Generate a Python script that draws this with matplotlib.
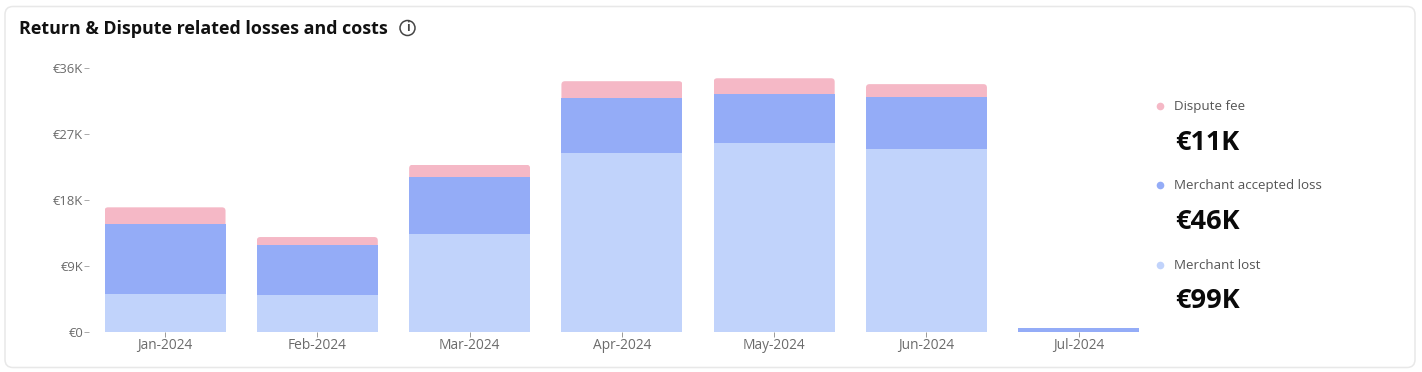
import matplotlib
matplotlib.use("Agg")
import matplotlib.pyplot as plt
from matplotlib.patches import FancyBboxPatch, Circle
from matplotlib.transforms import IdentityTransform

plt.rcParams['font.family'] = ['Open Sans', 'DejaVu Sans']

months = ['Jan-2024', 'Feb-2024', 'Mar-2024', 'Apr-2024', 'May-2024', 'Jun-2024', 'Jul-2024']
merchant_lost = [5.2, 5.05, 13.4, 24.4, 25.8, 25.0, 0.05]
merchant_accepted = [9.5, 6.85, 7.7, 7.5, 6.7, 7.0, 0.5]
dispute_fee = [2.3, 1.05, 1.7, 2.3, 2.1, 1.8, 0.0]
y_ticks = [0, 9, 18, 27, 36]
y_labels = ['€0', '€9K', '€18K', '€27K', '€36K']
legend_names = ['Dispute fee', 'Merchant accepted loss', 'Merchant lost']
legend_totals = ['€11K', '€46K', '€99K']

C_LOST, C_ACC, C_FEE = '#c1d3fb', '#94acf7', '#f5b8c6'
legend_colors = [C_FEE, C_ACC, C_LOST]
W, H = 1422, 372
TXT = '#6b6b6b'

fig = plt.figure(figsize=(W / 100, H / 100), dpi=100, facecolor='white')
bg = fig.add_axes([0, 0, 1, 1])
bg.set_xlim(0, W)
bg.set_ylim(H, 0)
bg.axis('off')
bg.add_patch(FancyBboxPatch((5, 6.5), 1410, 361, boxstyle='round,pad=0,rounding_size=8',
                            fc='white', ec='#e8e8e8', lw=1.1))
bg.text(19, 28.5, 'Return & Dispute related losses and costs', fontsize=12.9, fontweight='bold',
        color='#111111', va='center', ha='left')
bg.add_patch(Circle((407.5, 28), 7.5, fc='none', ec='#444444', lw=1.1))
bg.text(407.5, 27.5, 'i', fontsize=8.5, fontweight='bold', color='#444444', ha='center', va='center')

legend_y = [105, 184, 264]
total_y = [141, 220, 299]
for name, total, col, ly, ty in zip(legend_names, legend_totals, legend_colors, legend_y, total_y):
    bg.plot([1160], [ly + 1], 'o', ms=5.5, color=col, mec='none')
    bg.text(1174, ly + 1.5, name, fontsize=9.6, color='#555555', va='center', ha='left')
    bg.text(1175, ty + 2, total, fontsize=19.5, fontweight='bold', color='#0a0a0a', va='center', ha='left')

ax = fig.add_axes([88.9 / W, 1 - 332 / H, 1066 / W, 264 / H], facecolor='none')
ax.set_xlim(-0.5, 6.5)
ax.set_ylim(0, 36)
x = list(range(len(months)))
bw = 121 / 152.33
ax.bar(x, merchant_lost, width=bw, color=C_LOST, lw=0)
bottom2 = merchant_lost
ax.bar(x, merchant_accepted, width=bw, bottom=bottom2, color=C_ACC, lw=0)
bottom3 = [a + b for a, b in zip(merchant_lost, merchant_accepted)]
bars = ax.bar(x, dispute_fee, width=bw, bottom=bottom3, color=C_FEE, lw=0)

fig.canvas.draw()
for b in bars:
    ext = b.get_window_extent()
    if ext.height < 1:
        continue
    clip = FancyBboxPatch((ext.x0, ext.y0 - 10), ext.width, ext.height + 10,
                          boxstyle='round,pad=0,rounding_size=3.5', transform=IdentityTransform())
    b.set_clip_path(clip)

for s in ax.spines.values():
    s.set_visible(False)
ax.set_xticks(x, months)
ax.set_yticks(y_ticks, y_labels)
ax.tick_params(axis='x', length=3.6, width=0.7, color='#999999', labelcolor=TXT, labelsize=9.9, pad=0.6)
ax.tick_params(axis='y', length=3.5, width=0.7, color='#aaaaaa', labelcolor=TXT, labelsize=9.4, pad=0.6)
ax.set_axisbelow(False)

fig.savefig('out.png', dpi=100, facecolor='white')
